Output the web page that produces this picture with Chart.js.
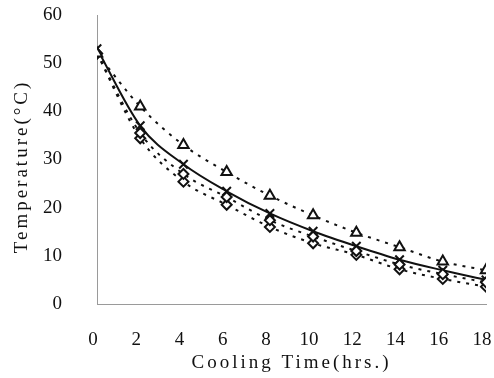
<!DOCTYPE html>
<html>
<head>
<meta charset="utf-8">
<title>Cooling curves</title>
<script src="https://cdn.jsdelivr.net/npm/chart.js@4.4.1/dist/chart.umd.min.js"></script>
<style>
  body { margin: 0; background: #fff; }
</style>
</head>
<body>
<canvas id="coolingChart" width="494" height="378"></canvas>
<script>
// cooling time (hrs) and temperature readings for each sample
const hours = [0, 2, 4, 6, 8, 10, 12, 14, 16, 18];
const tempTriangle = [52, 41, 33, 27.4, 22.5, 18.4, 14.8, 11.8, 8.8, 7];
const tempCross = [53, 37, 29, 23.4, 18.8, 15.1, 12, 9.2, 7, 5];
const tempDiamondA = [52, 35.5, 27, 22.2, 17.4, 14, 11, 8.2, 6.2, 4.5];
const tempDiamondB = [52, 34.4, 25.4, 20.6, 16, 12.6, 10.2, 7.2, 5.2, 3.6];

const xTicks = [0, 2, 4, 6, 8, 10, 12, 14, 16, 18];
const yTicks = [0, 10, 20, 30, 40, 50, 60];
const xTitle = "Cooling Time(hrs.)";
const yTitle = "Temperature(°C)";

const ink = "#111";
const serif = "'Liberation Serif', 'DejaVu Serif', serif";

function toPoints(values) {
  return hours.map((h, i) => ({ x: h, y: values[i] }));
}

function series(values, style, dashed, radius) {
  return {
    data: toPoints(values),
    borderColor: ink,
    backgroundColor: "rgba(0,0,0,0)",
    borderWidth: 2,
    borderDash: dashed ? [3, 6] : [],
    cubicInterpolationMode: "monotone",
    pointStyle: style,
    pointRadius: radius,
    pointBorderWidth: 2,
    pointBorderColor: ink,
    pointBackgroundColor: "#fff",
  };
}

// axis titles are drawn by hand so they can be letter-spaced
const axisTitles = {
  id: "axisTitles",
  afterDraw(chart) {
    const { ctx, chartArea } = chart;
    ctx.save();
    ctx.fillStyle = ink;
    ctx.font = "19px " + serif;
    ctx.letterSpacing = "3px";
    ctx.textAlign = "center";
    ctx.textBaseline = "middle";
    ctx.fillText(xTitle, (chartArea.left + chartArea.right) / 2, chartArea.bottom + 59);
    ctx.translate(22, (chartArea.top + chartArea.bottom) / 2 + 7);
    ctx.rotate(-Math.PI / 2);
    ctx.fillText(yTitle, 0, 0);
    ctx.restore();
  },
};

new Chart(document.getElementById("coolingChart"), {
  type: "line",
  data: {
    datasets: [
      series(tempTriangle, "triangle", true, 6),
      series(tempDiamondA, "rectRot", true, 5),
      series(tempDiamondB, "rectRot", true, 5),
      series(tempCross, "crossRot", false, 6),
    ],
  },
  options: {
    responsive: false,
    animation: false,
    layout: { padding: { top: 15, right: 7, left: 0, bottom: 0 } },
    plugins: {
      legend: { display: false },
      tooltip: { enabled: false },
    },
    scales: {
      x: {
        type: "linear",
        min: 0,
        max: 18,
        afterBuildTicks: (axis) => {
          axis.ticks = xTicks.map((v) => ({ value: v }));
        },
        afterFit: (axis) => {
          // fixed height, and no extra edge padding from the tick gap
          axis.height = 74;
          axis.paddingLeft = 0;
          axis.paddingRight = 0;
        },
        grid: { display: false, drawTicks: false },
        border: { display: true, color: "#9a9a9a", width: 1, dash: [2, 2] },
        ticks: {
          padding: 25,
          labelOffset: -4,
          color: ink,
          maxRotation: 0,
          font: { family: serif, size: 19 },
        },
      },
      y: {
        min: 0,
        max: 60,
        afterBuildTicks: (axis) => {
          axis.ticks = yTicks.map((v) => ({ value: v }));
        },
        afterFit: (axis) => {
          axis.width = 97;
          axis.paddingTop = 0;
          axis.paddingBottom = 0;
        },
        grid: { display: false, drawTicks: false },
        border: { display: true, color: "#9a9a9a", width: 1, dash: [2, 2] },
        ticks: {
          padding: 35,
          color: ink,
          font: { family: serif, size: 19 },
        },
      },
    },
  },
  plugins: [axisTitles],
});
</script>
</body>
</html>
